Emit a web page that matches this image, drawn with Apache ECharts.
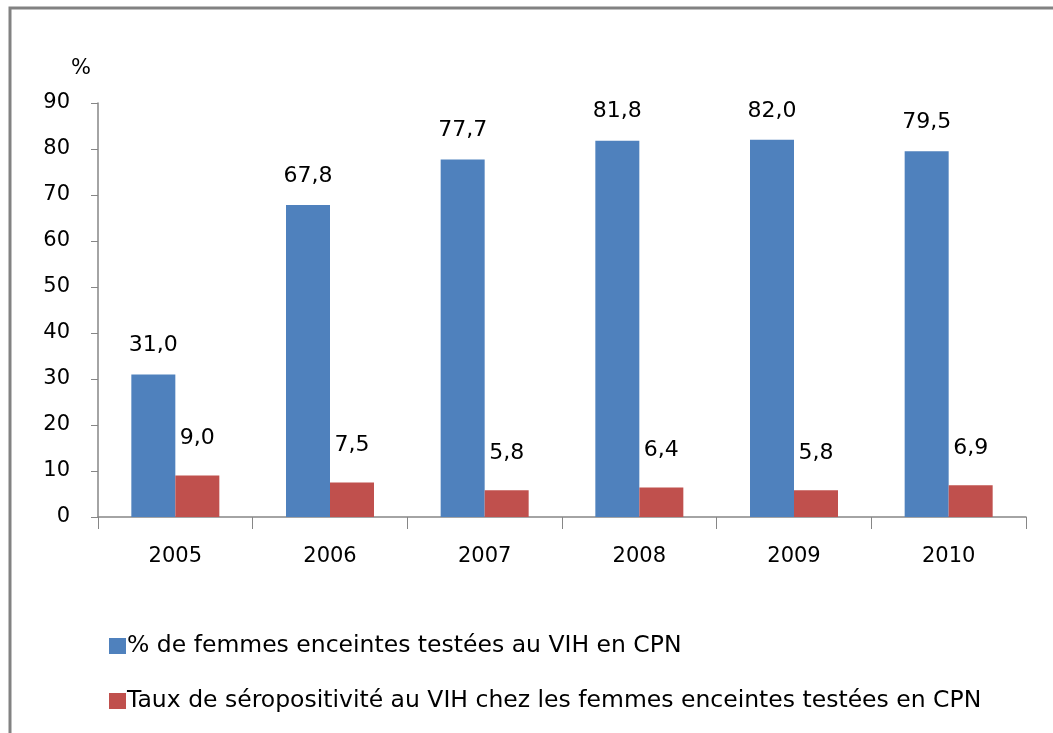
<!DOCTYPE html>
<html>
<head>
<meta charset="utf-8">
<script src="https://cdn.jsdelivr.net/npm/echarts@6/dist/echarts.min.js"></script>
<style>
  html, body { margin: 0; padding: 0; background: #fff; }
  #main { width: 1053px; height: 733px; }
</style>
</head>
<body>
<div id="main"></div>
<script>
var years = ['2005', '2006', '2007', '2008', '2009', '2010'];
var testees = [31.0, 67.8, 77.7, 81.8, 82.0, 79.5];
var seropos = [9.0, 7.5, 5.8, 6.4, 5.8, 6.9];
var nomTestees = '% de femmes enceintes testées au VIH en CPN';
var nomSeropos = 'Taux de séropositivité au VIH chez les femmes enceintes testées en CPN';

var police = 'DejaVu Sans';
var myChart = echarts.init(document.getElementById('main'));

// virgule décimale comme dans l'original
function virgule(p) {
  return p.value.toFixed(1).replace('.', ',');
}

var option = {
  animation: false,
  textStyle: { fontFamily: police },
  graphic: [{
    type: 'rect',
    shape: { x: 10, y: 8, width: 1200, height: 900 },
    style: { fill: 'none', stroke: '#828282', lineWidth: 3 }
  }],
  grid: { left: 98, top: 103, right: 27, bottom: 216 },
  legend: {
    orient: 'vertical',
    left: 104,
    top: 629,
    itemGap: 31,
    itemWidth: 17,
    itemHeight: 16,
    icon: 'rect',
    textStyle: { fontSize: 23.5, color: '#000', fontFamily: police, padding: [0, 0, 0, -4] },
    data: [nomTestees, nomSeropos]
  },
  xAxis: {
    type: 'category',
    data: years,
    axisLine: { lineStyle: { color: '#868686', width: 1.5 } },
    axisTick: { show: true, length: 12, alignWithLabel: false, lineStyle: { color: '#868686' } },
    axisLabel: { fontSize: 21, color: '#000', margin: 29 }
  },
  yAxis: {
    type: 'value',
    min: 0,
    max: 90,
    interval: 10,
    name: '%',
    nameLocation: 'end',
    nameGap: 24,
    nameTextStyle: { fontSize: 21, color: '#000', align: 'right', padding: [0, 7, 0, 0] },
    axisLine: { show: true, lineStyle: { color: '#868686', width: 1.5 } },
    axisTick: { show: true, length: 7, inside: false, lineStyle: { color: '#868686' } },
    axisLabel: { fontSize: 21, color: '#000', margin: 28 },
    splitLine: { show: false }
  },
  series: [{
    name: nomTestees,
    type: 'bar',
    data: testees,
    barWidth: 44,
    barGap: '0%',
    itemStyle: { color: '#4F81BD' },
    label: { show: true, position: 'top', distance: 18, fontSize: 22, color: '#000', formatter: virgule }
  }, {
    name: nomSeropos,
    type: 'bar',
    data: seropos,
    barWidth: 44,
    barGap: '0%',
    itemStyle: { color: '#C0504D' },
    label: { show: true, position: 'top', distance: 26, fontSize: 22, color: '#000', formatter: virgule }
  }]
};
myChart.setOption(option);
</script>
</body>
</html>
